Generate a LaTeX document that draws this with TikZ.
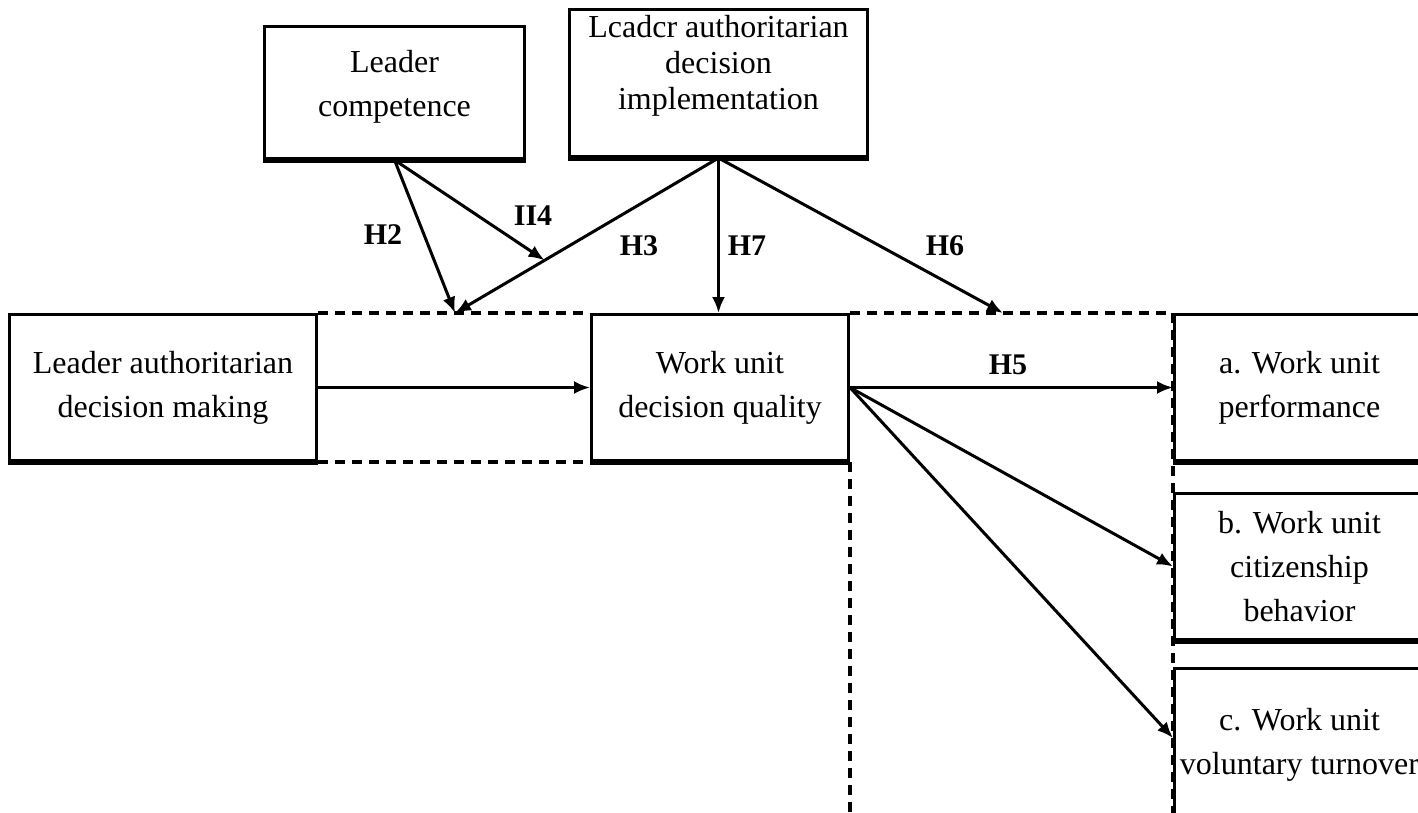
\documentclass[tikz,border=0pt]{standalone}
\usepackage{fontspec}
\setmainfont{Liberation Serif}
\usetikzlibrary{calc}
\usetikzlibrary{arrows.meta}

\begin{document}
\begin{tikzpicture}[x=1pt,y=-1pt,
  box/.style={draw,line width=3pt,anchor=north west,align=center,inner sep=0pt,
    font=\fontsize{32}{44}\selectfont},
  hyp/.style={font=\fontsize{30}{30}\selectfont\bfseries},
  link/.style={line width=3pt,-{Latex[length=16pt,width=13pt]}},
  frame/.style={line width=4pt,dash pattern=on 10pt off 7pt}]
\clip (0,0) rectangle (1418,812);
%top boxes
\node [box,minimum width=260pt,minimum height=132pt,text depth=19pt] (comp) at (263,25) {Leader\\competence};
\node [box,minimum width=298pt,minimum height=147pt,text depth=41pt,font=\fontsize{32}{36}\selectfont] (impl) at (568,8) {Lcadcr authoritarian\\decision\\implementation};
%middle row
\node [box,minimum width=307pt,minimum height=146pt] (adm) at (8,313) {Leader authoritarian\\decision making};
\node [box,minimum width=257pt,minimum height=146pt] (quality) at (590,313) {Work unit\\decision quality};
%outcomes
\node [box,minimum width=250pt,minimum height=146pt] (perf) at (1173,313) {a. Work unit\\performance};
\node [box,minimum width=250pt,minimum height=146pt] (citz) at (1173,492) {b. Work unit\\citizenship\\behavior};
\node [box,minimum width=250pt,minimum height=153pt] (turn) at (1173,667) {c. Work unit\\voluntary turnover};
\foreach \n in {comp,impl,adm,quality,perf,citz,turn}
  \draw [line width=5pt] (\n.south west) -- (\n.south east);
%dashed frames
\coordinate (low) at (0,820);
\draw [frame] (adm.north east) -- (quality.north west);
\draw [frame] (adm.south east) -- (quality.south west);
\draw [frame] (quality.north east) -- (perf.north west);
\draw [frame] (quality.south east) -- (quality.south east |- low);
\draw [frame] (perf.north west) -- (perf.north west |- low);
%arrows
\coordinate (h23) at (455,313);
\coordinate (h6) at (1003,313);
\draw [link] (comp.south) -- (h23);
\draw [link] (comp.south) -- ($(impl.south)!0.66!(h23)$);
\draw [link] (impl.south) -- (h23);
\draw [link] (impl.south) -- (impl.south |- quality.north);
\draw [link] (impl.south) -- (h6);
\draw [link] (adm.east) -- (quality.west);
\draw [link] (quality.east) -- (perf.west);
\draw [link] (quality.east) -- (citz.west);
\draw [link] (quality.east) -- ([yshift=7pt]turn.west);
%labels
\node [hyp] (lh2) at (383,235) {H2};
\node [hyp] (lh4) at (533,216) {II4};
\node [hyp] (lh3) at (639,246) {H3};
\node [hyp] (lh7) at (747,246) {H7};
\node [hyp] (lh6) at (945,246) {H6};
\node [hyp] (lh5) at (1008,365) {H5};
\end{tikzpicture}
\end{document}
